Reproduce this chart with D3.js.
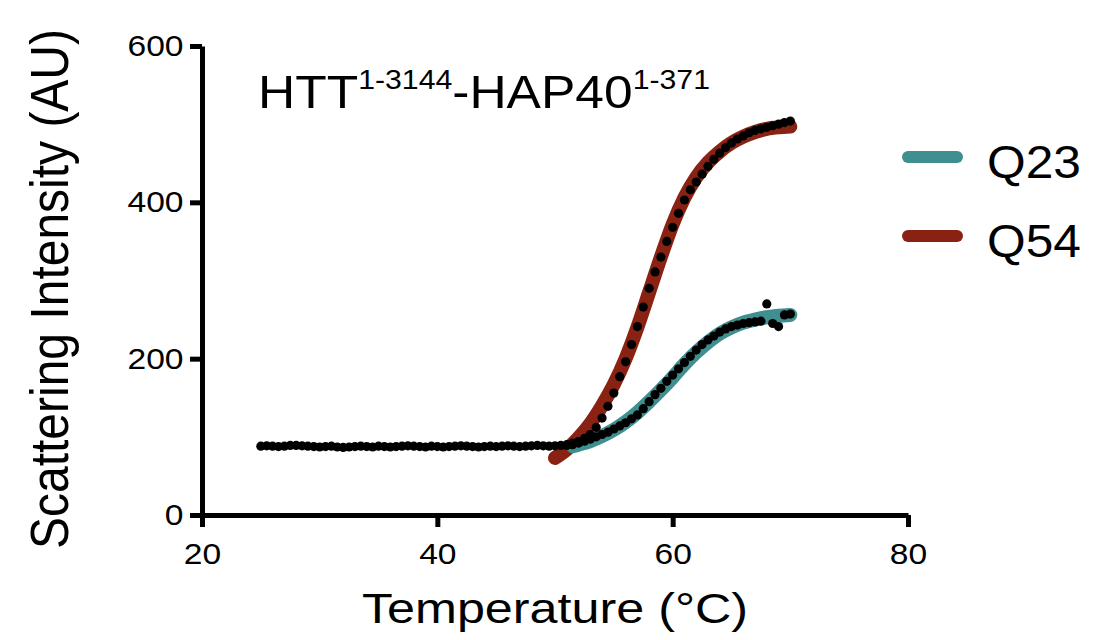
<!DOCTYPE html>
<html>
<head>
<meta charset="utf-8">
<script src="https://cdn.jsdelivr.net/npm/d3@7"></script>
<style>
  body { margin: 0; background: #fff; }
  text { font-family: "Liberation Sans", Arial, Helvetica, sans-serif; fill: #000; }
</style>
</head>
<body>
<div id="chart"></div>
<script>
// values
const xTicks = [20, 40, 60, 80];
const yTicks = [0, 200, 400, 600];

// shared baseline (both constructs overlap before the transition)
const baseTemps = [25, 25.5, 26, 26.5, 27, 27.5, 28, 28.5, 29, 29.5,
  30, 30.5, 31, 31.5, 32, 32.5, 33, 33.5, 34, 34.5,
  35, 35.5, 36, 36.5, 37, 37.5, 38, 38.5, 39, 39.5,
  40, 40.5, 41, 41.5, 42, 42.5, 43, 43.5, 44, 44.5,
  45, 45.5, 46, 46.5, 47, 47.5, 48, 48.5, 49, 49.5,
  50, 50.5];
const baseVals = [88, 88.5, 88, 87.5, 88, 89, 89, 88.5, 88, 87.5,
  87, 87.5, 88, 87, 86.5, 87, 87.5, 88, 87.5, 87,
  88, 87.5, 87, 87.5, 88, 88.5, 88, 87.5, 87, 88,
  87.5, 87, 87.5, 88, 88.5, 88, 87.5, 87, 87.5, 88,
  87.5, 88, 88.5, 88, 87.5, 88, 88.5, 89, 88.5, 88,
  88.5, 89];

const meltTemps = [51, 51.5, 52, 52.5, 53, 53.5, 54, 54.5, 55, 55.5,
  56, 56.5, 57, 57.5, 58, 58.5, 59, 59.5, 60, 60.5,
  61, 61.5, 62, 62.5, 63, 63.5, 64, 64.5, 65, 65.5,
  66, 66.5, 67, 67.5, 68, 68.5, 69, 69.5, 70];
const q23Vals = [89, 90, 92, 94.5, 97, 100, 103, 106, 110, 114,
  118, 123, 128, 136, 145, 154, 162, 171, 179, 187,
  195, 203, 211, 218, 224, 229, 234, 238, 241, 243,
  245, 246, 247, 248, 270, 245, 241, 256, 257];
const q54Vals = [90, 92, 94, 98, 103, 112, 124, 139, 156, 177,
  196, 218, 241, 266, 290, 311, 330, 350, 368, 386,
  403, 416, 426, 436, 446, 455, 463, 470, 476, 481,
  485, 489, 492, 494, 496, 498, 500, 502, 504];

// fitted curves
const q23FitTemps = [51.5, 52, 53, 54, 55, 56, 57, 58, 59, 60, 61, 62, 63, 64, 65, 66, 67, 68, 69, 70];
const q23FitVals = [88, 90, 94.5, 101, 109, 119, 131, 145, 160, 176, 193, 208, 221, 232, 240, 246, 250, 253, 255, 256];
const q54FitTemps = [50, 51, 52, 53, 54, 55, 56, 57, 58, 59, 60, 61, 62, 63, 64, 65, 66, 67, 68, 69, 70];
const q54FitVals = [73, 84, 99, 117, 140, 167, 200, 240, 285, 330, 372, 406, 432, 451, 465, 476, 484, 490, 494, 496, 497];

const seriesNames = ["Q23", "Q54"];
const seriesColors = ["#3f8e90", "#8a2213"];

const width = 1109, height = 640;
const textStretch = 1.12;

const svg = d3.select("#chart").append("svg")
  .attr("width", width)
  .attr("height", height);

const x = d3.scaleLinear().domain([20, 80]).range([202, 908]);
const y = d3.scaleLinear().domain([0, 600]).range([515, 46]);

// fits
const line = d3.line()
  .x(d => x(d[0]))
  .y(d => y(d[1]))
  .curve(d3.curveMonotoneX);

const fits = [
  { pts: d3.zip(q54FitTemps, q54FitVals), color: seriesColors[1] },
  { pts: d3.zip(q23FitTemps, q23FitVals), color: seriesColors[0] }
];
fits.forEach(f => {
  svg.append("path")
    .attr("d", line(f.pts))
    .attr("fill", "none")
    .attr("stroke", f.color)
    .attr("stroke-width", 14)
    .attr("stroke-linecap", "round");
});

// raw points
const dots = d3.zip(baseTemps, baseVals)
  .concat(d3.zip(meltTemps, q23Vals))
  .concat(d3.zip(meltTemps, q54Vals));
svg.append("g").selectAll("circle")
  .data(dots)
  .enter()
  .append("circle")
  .attr("cx", d => x(d[0]))
  .attr("cy", d => y(d[1]))
  .attr("r", 4.6)
  .attr("fill", "#000");

// axes
const xAxis = svg.append("g")
  .attr("transform", `translate(0,${y(0)})`)
  .call(d3.axisBottom(x).tickValues(xTicks).tickSize(12).tickSizeOuter(0).tickPadding(16));
const yAxis = svg.append("g")
  .attr("transform", `translate(${x(20)},0)`)
  .call(d3.axisLeft(y).tickValues(yTicks).tickSize(12).tickSizeOuter(0).tickPadding(4.5));

[xAxis, yAxis].forEach(ax => {
  ax.attr("font-family", null).attr("font-size", null);
  ax.select(".domain").attr("stroke", "#000").attr("stroke-width", 5);
  ax.selectAll(".tick line").attr("stroke", "#000").attr("stroke-width", 5);
  ax.selectAll(".tick text")
    .style("font-size", "30px")
    .attr("fill", "#000")
    .attr("transform", `scale(${textStretch},1)`);
});

// axis titles
svg.append("text")
  .attr("transform", `translate(555,623) scale(1.17,1)`)
  .attr("text-anchor", "middle")
  .style("font-size", "43px")
  .text("Temperature (°C)");

svg.append("text")
  .attr("transform", `translate(68,289) scale(1.1,1) rotate(-90)`)
  .attr("text-anchor", "middle")
  .style("font-size", "48px")
  .text("Scattering Intensity (AU)");

// panel label
const title = svg.append("text")
  .attr("transform", `translate(258,108) scale(${textStretch},1)`)
  .style("font-size", "46px");
title.append("tspan").text("HTT");
title.append("tspan").attr("dy", -19).style("font-size", "27px").text("1-3144");
title.append("tspan").attr("dy", 19).text("-HAP40");
title.append("tspan").attr("dy", -19).style("font-size", "27px").text("1-371");

// legend
const legend = svg.append("g");
seriesNames.forEach((name, i) => {
  const ly = 157 + i * 79;
  legend.append("line")
    .attr("x1", 908).attr("x2", 957)
    .attr("y1", ly).attr("y2", ly)
    .attr("stroke", seriesColors[i])
    .attr("stroke-width", 12)
    .attr("stroke-linecap", "round");
  legend.append("text")
    .attr("transform", `translate(987,${ly + 21}) scale(1.08,1)`)
    .style("font-size", "46px")
    .text(name);
});
</script>
</body>
</html>
